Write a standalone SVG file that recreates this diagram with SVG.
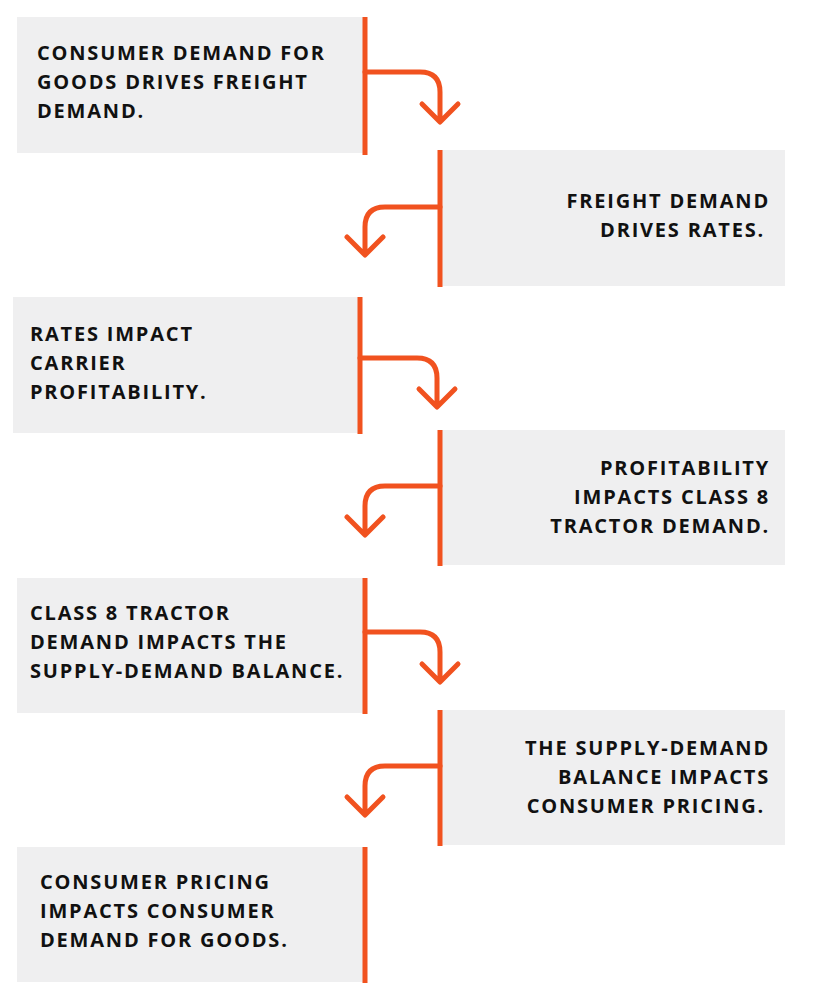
<svg xmlns="http://www.w3.org/2000/svg" width="821" height="1000" viewBox="0 0 821 1000">
<style>
.b{fill:#efeff0}
.l{stroke:#f1521f;stroke-width:5;fill:none}
.a{stroke:#f1521f;stroke-width:5;fill:none;stroke-linecap:round;stroke-linejoin:round}
text{font-family:"Open Sans","Liberation Sans",sans-serif;font-weight:700;font-size:20px;letter-spacing:1.8px;fill:#111}
.r{text-anchor:end}
</style>
<rect width="821" height="1000" fill="#fff"/>
<g id="n1"><rect class="b" x="17" y="17" width="348" height="136"/><line class="l" x1="365" y1="17" x2="365" y2="155"/>
<text x="37" y="60">CONSUMER DEMAND FOR</text><text x="37" y="89">GOODS DRIVES FREIGHT</text><text x="37" y="118">DEMAND.</text></g>
<g id="n2"><rect class="b" x="440" y="150" width="345" height="136"/><line class="l" x1="440" y1="150" x2="440" y2="287"/>
<text class="r" x="770" y="208">FREIGHT DEMAND</text><text class="r" x="765" y="237">DRIVES RATES.</text></g>
<g id="n3"><rect class="b" x="13" y="297" width="347" height="136"/><line class="l" x1="360" y1="297" x2="360" y2="434"/>
<text x="30" y="341">RATES IMPACT</text><text x="30" y="370">CARRIER</text><text x="30" y="399">PROFITABILITY.</text></g>
<g id="n4"><rect class="b" x="440" y="430" width="345" height="135"/><line class="l" x1="440" y1="430" x2="440" y2="566"/>
<text class="r" x="770" y="475">PROFITABILITY</text><text class="r" x="770" y="504">IMPACTS CLASS 8</text><text class="r" x="770" y="533">TRACTOR DEMAND.</text></g>
<g id="n5"><rect class="b" x="17" y="578" width="348" height="135"/><line class="l" x1="365" y1="578" x2="365" y2="714"/>
<text x="30" y="620">CLASS 8 TRACTOR</text><text x="30" y="649">DEMAND IMPACTS THE</text><text x="30" y="678">SUPPLY-DEMAND BALANCE.</text></g>
<g id="n6"><rect class="b" x="440" y="710" width="345" height="135"/><line class="l" x1="440" y1="710" x2="440" y2="846"/>
<text class="r" x="770" y="755">THE SUPPLY-DEMAND</text><text class="r" x="770" y="784">BALANCE IMPACTS</text><text class="r" x="765" y="813">CONSUMER PRICING.</text></g>
<g id="n7"><rect class="b" x="17" y="847" width="348" height="135"/><line class="l" x1="365" y1="847" x2="365" y2="983"/>
<text x="40" y="889">CONSUMER PRICING</text><text x="40" y="918">IMPACTS CONSUMER</text><text x="40" y="947">DEMAND FOR GOODS.</text></g>
<g id="connectors">
<path class="a" d="M365 72 H420 Q440 72 440 92 V120 M422 104 L440 122 L458 104"/>
<path class="a" d="M440 207 H385 Q365 207 365 227 V253 M347 237 L365 255 L383 237"/>
<path class="a" d="M360 358 H417 Q437 358 437 378 V405 M419 389 L437 407 L455 389"/>
<path class="a" d="M440 486 H385 Q365 486 365 506 V533 M347 517 L365 535 L383 517"/>
<path class="a" d="M365 632 H420 Q440 632 440 652 V680 M422 664 L440 682 L458 664"/>
<path class="a" d="M440 766 H385 Q365 766 365 786 V813 M347 797 L365 815 L383 797"/>
</g>
</svg>
